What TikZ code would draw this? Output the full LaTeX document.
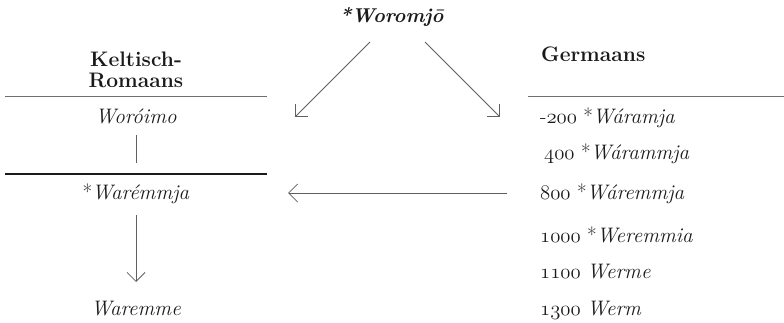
\documentclass[tikz,border=0pt]{standalone}
\usetikzlibrary{arrows.meta}
\definecolor{ink}{HTML}{1A1A1A}
\definecolor{rulegray}{HTML}{707070}
\definecolor{arrgray}{HTML}{606060}
\newcommand\osnum[1]{{\fontencoding{OML}\fontfamily{cmm}\fontseries{m}\fontshape{it}\selectfont #1}}
\begin{document}
\begin{tikzpicture}[x=1pt,y=-1pt,
  txt/.style={font=\fontsize{21}{25}\selectfont, text=ink, inner sep=0pt, anchor=base},
  rtxt/.style={txt, anchor=base west},
  hd/.style={txt, font=\fontsize{21}{25}\selectfont\bfseries},
  ttl/.style={txt, font=\fontsize{20}{24}\selectfont\bfseries},
  thinrule/.style={draw=rulegray, line width=1pt},
  thickrule/.style={draw=ink, line width=2.2pt},
  arr/.style={draw=arrgray, line width=0.8pt, -{Straight Barb[length=9pt,width=18pt]}},
  plainline/.style={draw=arrgray, line width=0.8pt}]
\useasboundingbox (0,0) rectangle (784,323);
% title
\node[ttl] (title) at (392,23) {\textit{*Woromjō}};
% left column
\node[hd] (kelt) at (136,67) {Keltisch-};
\node[hd] (rom) at (136,88) {Romaans};
\node[txt] (woro) at (136,124) {\textit{Woróimo}};
\node[txt] (warem) at (136,200) {*\textit{Warémmja}};
\node[txt] (waremme) at (136,315) {\textit{Waremme}};
% right column
\node[hd, anchor=base west] (germ) at (541,62) {Germaans};
\node[rtxt] (r1) at (540,124) {-\osnum{200} *\textit{Wáramja}};
\node[rtxt] (r2) at (544,160) {\osnum{400} *\textit{Wárammja}};
\node[rtxt] (r3) at (540,200) {\osnum{800} *\textit{Wáremmja}};
\node[rtxt] (r4) at (540,242) {\osnum{1000} *\textit{Weremmia}};
\node[rtxt] (r5) at (540,278) {\osnum{1100} \textit{Werme}};
\node[rtxt] (r6) at (540,315) {\osnum{1300} \textit{Werm}};
% rules
\coordinate (l1a) at (5,97); \coordinate (l1b) at (267,97);
\coordinate (l2a) at (5,174); \coordinate (l2b) at (267,174);
\coordinate (l3a) at (528,97); \coordinate (l3b) at (784,97);
\draw[thinrule] (l1a) -- (l1b);
\draw[thickrule] (l2a) -- (l2b);
\draw[thinrule] (l3a) -- (l3b);
% connectors
\coordinate (ta) at (370,42); \coordinate (tae) at (295,117);
\coordinate (tb) at (425,42); \coordinate (tbe) at (500,117);
\coordinate (ha) at (507,193); \coordinate (hae) at (288,193);
\coordinate (va) at (136,135); \coordinate (vae) at (136,163);
\coordinate (da) at (136,215); \coordinate (dae) at (136,282);
\draw[arr] (ta) -- (tae);
\draw[arr] (tb) -- (tbe);
\draw[arr] (ha) -- (hae);
\draw[plainline] (va) -- (vae);
\draw[arr] (da) -- (dae);
\end{tikzpicture}
\end{document}
